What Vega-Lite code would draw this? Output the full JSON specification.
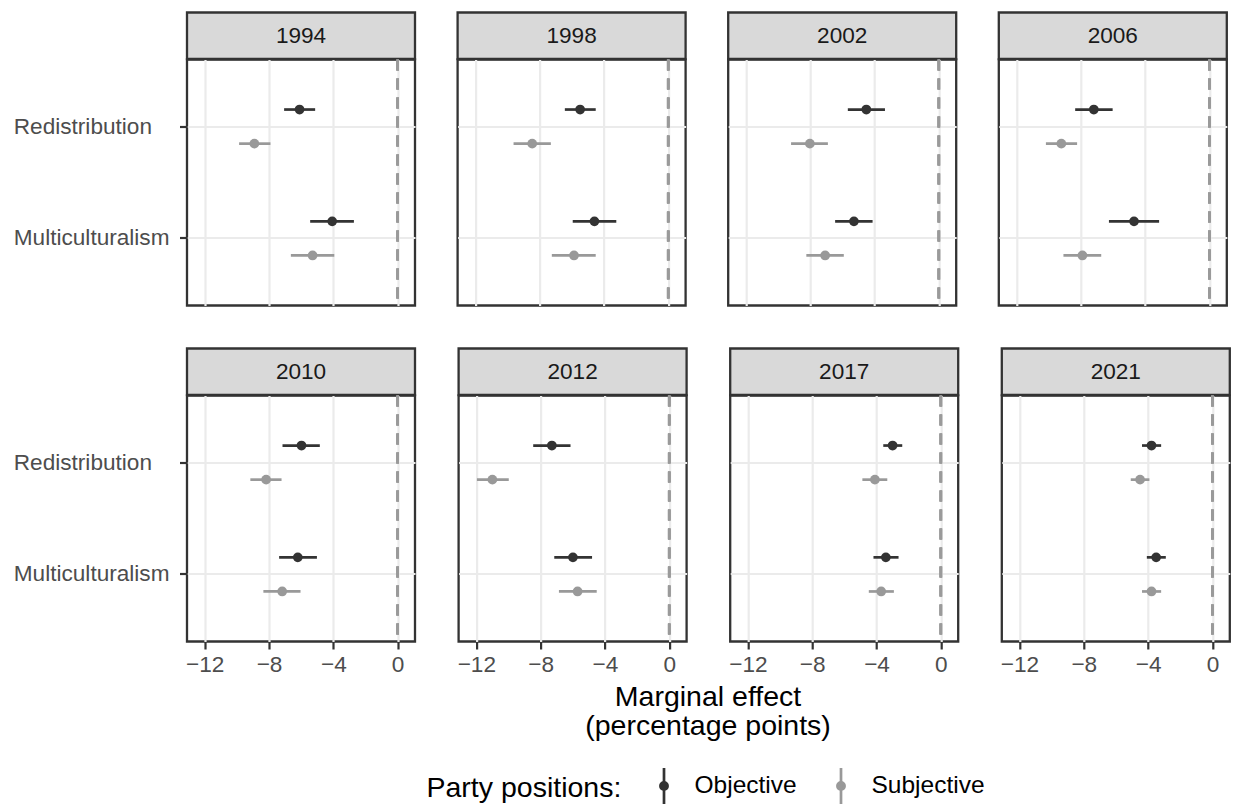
{
  "$schema": "https://vega.github.io/schema/vega-lite/v6.json",
  "background": "white",
  "padding": {"left": 12, "top": 10.5, "right": 4, "bottom": 0},
  "spacing": 38,
  "data": {"values": [
    {"year": "1994", "issue": "Redistribution", "measure": "Objective", "est": -6.10, "lo": -7.06, "hi": -5.13},
    {"year": "1994", "issue": "Redistribution", "measure": "Subjective", "est": -8.91, "lo": -9.86, "hi": -7.91},
    {"year": "1994", "issue": "Multiculturalism", "measure": "Objective", "est": -4.07, "lo": -5.44, "hi": -2.72},
    {"year": "1994", "issue": "Multiculturalism", "measure": "Subjective", "est": -5.29, "lo": -6.64, "hi": -3.94},
    {"year": "1998", "issue": "Redistribution", "measure": "Objective", "est": -5.48, "lo": -6.43, "hi": -4.51},
    {"year": "1998", "issue": "Redistribution", "measure": "Subjective", "est": -8.46, "lo": -9.62, "hi": -7.30},
    {"year": "1998", "issue": "Multiculturalism", "measure": "Objective", "est": -4.59, "lo": -5.94, "hi": -3.23},
    {"year": "1998", "issue": "Multiculturalism", "measure": "Subjective", "est": -5.86, "lo": -7.24, "hi": -4.51},
    {"year": "2002", "issue": "Redistribution", "measure": "Objective", "est": -4.51, "lo": -5.66, "hi": -3.35},
    {"year": "2002", "issue": "Redistribution", "measure": "Subjective", "est": -8.02, "lo": -9.19, "hi": -6.90},
    {"year": "2002", "issue": "Multiculturalism", "measure": "Objective", "est": -5.28, "lo": -6.45, "hi": -4.12},
    {"year": "2002", "issue": "Multiculturalism", "measure": "Subjective", "est": -7.07, "lo": -8.24, "hi": -5.91},
    {"year": "2006", "issue": "Redistribution", "measure": "Objective", "est": -7.19, "lo": -8.35, "hi": -6.02},
    {"year": "2006", "issue": "Redistribution", "measure": "Subjective", "est": -9.21, "lo": -10.17, "hi": -8.23},
    {"year": "2006", "issue": "Multiculturalism", "measure": "Objective", "est": -4.69, "lo": -6.25, "hi": -3.13},
    {"year": "2006", "issue": "Multiculturalism", "measure": "Subjective", "est": -7.90, "lo": -9.08, "hi": -6.73},
    {"year": "2010", "issue": "Redistribution", "measure": "Objective", "est": -5.98, "lo": -7.16, "hi": -4.84},
    {"year": "2010", "issue": "Redistribution", "measure": "Subjective", "est": -8.18, "lo": -9.16, "hi": -7.22},
    {"year": "2010", "issue": "Multiculturalism", "measure": "Objective", "est": -6.21, "lo": -7.37, "hi": -5.02},
    {"year": "2010", "issue": "Multiculturalism", "measure": "Subjective", "est": -7.18, "lo": -8.35, "hi": -6.04},
    {"year": "2012", "issue": "Redistribution", "measure": "Objective", "est": -7.30, "lo": -8.46, "hi": -6.14},
    {"year": "2012", "issue": "Redistribution", "measure": "Subjective", "est": -11.00, "lo": -11.96, "hi": -9.98},
    {"year": "2012", "issue": "Multiculturalism", "measure": "Objective", "est": -5.99, "lo": -7.15, "hi": -4.80},
    {"year": "2012", "issue": "Multiculturalism", "measure": "Subjective", "est": -5.70, "lo": -6.86, "hi": -4.51},
    {"year": "2017", "issue": "Redistribution", "measure": "Objective", "est": -3.00, "lo": -3.58, "hi": -2.40},
    {"year": "2017", "issue": "Redistribution", "measure": "Subjective", "est": -4.10, "lo": -4.88, "hi": -3.33},
    {"year": "2017", "issue": "Multiculturalism", "measure": "Objective", "est": -3.42, "lo": -4.19, "hi": -2.63},
    {"year": "2017", "issue": "Multiculturalism", "measure": "Subjective", "est": -3.71, "lo": -4.48, "hi": -2.92},
    {"year": "2021", "issue": "Redistribution", "measure": "Objective", "est": -3.79, "lo": -4.38, "hi": -3.19},
    {"year": "2021", "issue": "Redistribution", "measure": "Subjective", "est": -4.50, "lo": -5.08, "hi": -3.92},
    {"year": "2021", "issue": "Multiculturalism", "measure": "Objective", "est": -3.50, "lo": -4.08, "hi": -2.90},
    {"year": "2021", "issue": "Multiculturalism", "measure": "Subjective", "est": -3.79, "lo": -4.38, "hi": -3.19}
  ]},
  "vconcat": [
    {"spacing": 38.6, "hconcat": [
      {"spacing": 0, "bounds": "flush", "vconcat": [
        {"width": 228, "height": 46.5, "view": {"fill": "#D9D9D9", "stroke": "#333333", "strokeWidth": 2.3}, "transform": [{"filter": "datum.year === '1994'"}, {"aggregate": [{"op": "count", "as": "n"}], "groupby": ["year"]}], "mark": {"type": "text", "fontSize": 22.6, "color": "#1A1A1A", "font": "Liberation Sans"}, "encoding": {"text": {"field": "year"}}},
        {"width": 228, "height": 246, "transform": [{"filter": "datum.year === '1994'"}], "layer": [
          {"mark": {"type": "rule", "color": "#9A9A9A", "strokeWidth": 2.6, "strokeDash": [11, 8]}, "encoding": {"x": {"datum": 0, "type": "quantitative"}}},
          {"encoding": {
            "y": {"field": "issue", "type": "nominal", "sort": ["Redistribution", "Multiculturalism"], "title": null, "scale": {"paddingInner": 0.39, "paddingOuter": 0.295}, "axis": {"bandPosition": 0.5, "gridWidth": 2.2, "labels": true, "ticks": true, "labelAlign": "left", "labelPadding": 166.2}},
            "yOffset": {"field": "measure", "type": "nominal", "sort": ["Objective", "Subjective"], "scale": {"paddingInner": 0, "paddingOuter": 0}},
            "color": {"field": "measure", "type": "nominal", "scale": {"domain": ["Objective", "Subjective"], "range": ["#333333", "#999999"]}, "legend": {"title": "Party positions:", "encode": {"symbols": {"update": {"fill": {"scale": "color", "field": "value"}, "stroke": {"scale": "color", "field": "value"}, "strokeWidth": {"value": 2.7}, "opacity": {"value": 1}}}}}}
          }, "layer": [
            {"mark": {"type": "rule", "strokeWidth": 2.7}, "encoding": {"x": {"field": "lo", "type": "quantitative", "title": null, "scale": {"domain": [-13.1, 1.08], "nice": false, "zero": false}, "axis": {"values": [-12, -10, -8, -6, -4, -2, 0], "labels": false, "ticks": false, "gridWidth": {"condition": {"test": "datum.value % 4 === 0", "value": 2.2}, "value": 1.1}}}, "x2": {"field": "hi"}}},
            {"mark": {"type": "circle", "size": 95, "opacity": 1}, "encoding": {"x": {"field": "est", "type": "quantitative"}}}
          ]}
        ]}
      ]},
      {"spacing": 0, "bounds": "flush", "vconcat": [
        {"width": 228, "height": 46.5, "view": {"fill": "#D9D9D9", "stroke": "#333333", "strokeWidth": 2.3}, "transform": [{"filter": "datum.year === '1998'"}, {"aggregate": [{"op": "count", "as": "n"}], "groupby": ["year"]}], "mark": {"type": "text", "fontSize": 22.6, "color": "#1A1A1A", "font": "Liberation Sans"}, "encoding": {"text": {"field": "year"}}},
        {"width": 228, "height": 246, "transform": [{"filter": "datum.year === '1998'"}], "layer": [
          {"mark": {"type": "rule", "color": "#9A9A9A", "strokeWidth": 2.6, "strokeDash": [11, 8]}, "encoding": {"x": {"datum": 0, "type": "quantitative"}}},
          {"encoding": {
            "y": {"field": "issue", "type": "nominal", "sort": ["Redistribution", "Multiculturalism"], "title": null, "scale": {"paddingInner": 0.39, "paddingOuter": 0.295}, "axis": {"bandPosition": 0.5, "gridWidth": 2.2, "labels": false, "ticks": false}},
            "yOffset": {"field": "measure", "type": "nominal", "sort": ["Objective", "Subjective"], "scale": {"paddingInner": 0, "paddingOuter": 0}},
            "color": {"field": "measure", "type": "nominal", "scale": {"domain": ["Objective", "Subjective"], "range": ["#333333", "#999999"]}, "legend": {"title": "Party positions:", "encode": {"symbols": {"update": {"fill": {"scale": "color", "field": "value"}, "stroke": {"scale": "color", "field": "value"}, "strokeWidth": {"value": 2.7}, "opacity": {"value": 1}}}}}}
          }, "layer": [
            {"mark": {"type": "rule", "strokeWidth": 2.7}, "encoding": {"x": {"field": "lo", "type": "quantitative", "title": null, "scale": {"domain": [-13.1, 1.08], "nice": false, "zero": false}, "axis": {"values": [-12, -10, -8, -6, -4, -2, 0], "labels": false, "ticks": false, "gridWidth": {"condition": {"test": "datum.value % 4 === 0", "value": 2.2}, "value": 1.1}}}, "x2": {"field": "hi"}}},
            {"mark": {"type": "circle", "size": 95, "opacity": 1}, "encoding": {"x": {"field": "est", "type": "quantitative"}}}
          ]}
        ]}
      ]},
      {"spacing": 0, "bounds": "flush", "vconcat": [
        {"width": 228, "height": 46.5, "view": {"fill": "#D9D9D9", "stroke": "#333333", "strokeWidth": 2.3}, "transform": [{"filter": "datum.year === '2002'"}, {"aggregate": [{"op": "count", "as": "n"}], "groupby": ["year"]}], "mark": {"type": "text", "fontSize": 22.6, "color": "#1A1A1A", "font": "Liberation Sans"}, "encoding": {"text": {"field": "year"}}},
        {"width": 228, "height": 246, "transform": [{"filter": "datum.year === '2002'"}], "layer": [
          {"mark": {"type": "rule", "color": "#9A9A9A", "strokeWidth": 2.6, "strokeDash": [11, 8]}, "encoding": {"x": {"datum": 0, "type": "quantitative"}}},
          {"encoding": {
            "y": {"field": "issue", "type": "nominal", "sort": ["Redistribution", "Multiculturalism"], "title": null, "scale": {"paddingInner": 0.39, "paddingOuter": 0.295}, "axis": {"bandPosition": 0.5, "gridWidth": 2.2, "labels": false, "ticks": false}},
            "yOffset": {"field": "measure", "type": "nominal", "sort": ["Objective", "Subjective"], "scale": {"paddingInner": 0, "paddingOuter": 0}},
            "color": {"field": "measure", "type": "nominal", "scale": {"domain": ["Objective", "Subjective"], "range": ["#333333", "#999999"]}, "legend": {"title": "Party positions:", "encode": {"symbols": {"update": {"fill": {"scale": "color", "field": "value"}, "stroke": {"scale": "color", "field": "value"}, "strokeWidth": {"value": 2.7}, "opacity": {"value": 1}}}}}}
          }, "layer": [
            {"mark": {"type": "rule", "strokeWidth": 2.7}, "encoding": {"x": {"field": "lo", "type": "quantitative", "title": null, "scale": {"domain": [-13.1, 1.08], "nice": false, "zero": false}, "axis": {"values": [-12, -10, -8, -6, -4, -2, 0], "labels": false, "ticks": false, "gridWidth": {"condition": {"test": "datum.value % 4 === 0", "value": 2.2}, "value": 1.1}}}, "x2": {"field": "hi"}}},
            {"mark": {"type": "circle", "size": 95, "opacity": 1}, "encoding": {"x": {"field": "est", "type": "quantitative"}}}
          ]}
        ]}
      ]},
      {"spacing": 0, "bounds": "flush", "vconcat": [
        {"width": 228, "height": 46.5, "view": {"fill": "#D9D9D9", "stroke": "#333333", "strokeWidth": 2.3}, "transform": [{"filter": "datum.year === '2006'"}, {"aggregate": [{"op": "count", "as": "n"}], "groupby": ["year"]}], "mark": {"type": "text", "fontSize": 22.6, "color": "#1A1A1A", "font": "Liberation Sans"}, "encoding": {"text": {"field": "year"}}},
        {"width": 228, "height": 246, "transform": [{"filter": "datum.year === '2006'"}], "layer": [
          {"mark": {"type": "rule", "color": "#9A9A9A", "strokeWidth": 2.6, "strokeDash": [11, 8]}, "encoding": {"x": {"datum": 0, "type": "quantitative"}}},
          {"encoding": {
            "y": {"field": "issue", "type": "nominal", "sort": ["Redistribution", "Multiculturalism"], "title": null, "scale": {"paddingInner": 0.39, "paddingOuter": 0.295}, "axis": {"bandPosition": 0.5, "gridWidth": 2.2, "labels": false, "ticks": false}},
            "yOffset": {"field": "measure", "type": "nominal", "sort": ["Objective", "Subjective"], "scale": {"paddingInner": 0, "paddingOuter": 0}},
            "color": {"field": "measure", "type": "nominal", "scale": {"domain": ["Objective", "Subjective"], "range": ["#333333", "#999999"]}, "legend": {"title": "Party positions:", "encode": {"symbols": {"update": {"fill": {"scale": "color", "field": "value"}, "stroke": {"scale": "color", "field": "value"}, "strokeWidth": {"value": 2.7}, "opacity": {"value": 1}}}}}}
          }, "layer": [
            {"mark": {"type": "rule", "strokeWidth": 2.7}, "encoding": {"x": {"field": "lo", "type": "quantitative", "title": null, "scale": {"domain": [-13.1, 1.08], "nice": false, "zero": false}, "axis": {"values": [-12, -10, -8, -6, -4, -2, 0], "labels": false, "ticks": false, "gridWidth": {"condition": {"test": "datum.value % 4 === 0", "value": 2.2}, "value": 1.1}}}, "x2": {"field": "hi"}}},
            {"mark": {"type": "circle", "size": 95, "opacity": 1}, "encoding": {"x": {"field": "est", "type": "quantitative"}}}
          ]}
        ]}
      ]}
    ]},
    {"spacing": 38.6, "title": {"text": ["Marginal effect", "(percentage points)"], "orient": "bottom", "anchor": "middle", "frame": "bounds", "fontSize": 28.5, "font": "Liberation Sans", "fontWeight": "normal", "color": "#000000", "lineHeight": 29, "offset": 6.5, "dx": 86.5}, "hconcat": [
      {"spacing": 0, "bounds": "flush", "vconcat": [
        {"width": 228, "height": 46.5, "view": {"fill": "#D9D9D9", "stroke": "#333333", "strokeWidth": 2.3}, "transform": [{"filter": "datum.year === '2010'"}, {"aggregate": [{"op": "count", "as": "n"}], "groupby": ["year"]}], "mark": {"type": "text", "fontSize": 22.6, "color": "#1A1A1A", "font": "Liberation Sans"}, "encoding": {"text": {"field": "year"}}},
        {"width": 228, "height": 246, "transform": [{"filter": "datum.year === '2010'"}], "layer": [
          {"mark": {"type": "rule", "color": "#9A9A9A", "strokeWidth": 2.6, "strokeDash": [11, 8]}, "encoding": {"x": {"datum": 0, "type": "quantitative"}}},
          {"encoding": {
            "y": {"field": "issue", "type": "nominal", "sort": ["Redistribution", "Multiculturalism"], "title": null, "scale": {"paddingInner": 0.39, "paddingOuter": 0.295}, "axis": {"bandPosition": 0.5, "gridWidth": 2.2, "labels": true, "ticks": true, "labelAlign": "left", "labelPadding": 166.2}},
            "yOffset": {"field": "measure", "type": "nominal", "sort": ["Objective", "Subjective"], "scale": {"paddingInner": 0, "paddingOuter": 0}},
            "color": {"field": "measure", "type": "nominal", "scale": {"domain": ["Objective", "Subjective"], "range": ["#333333", "#999999"]}, "legend": {"title": "Party positions:", "encode": {"symbols": {"update": {"fill": {"scale": "color", "field": "value"}, "stroke": {"scale": "color", "field": "value"}, "strokeWidth": {"value": 2.7}, "opacity": {"value": 1}}}}}}
          }, "layer": [
            {"mark": {"type": "rule", "strokeWidth": 2.7}, "encoding": {"x": {"field": "lo", "type": "quantitative", "title": null, "scale": {"domain": [-13.1, 1.08], "nice": false, "zero": false}, "axis": {"values": [-12, -10, -8, -6, -4, -2, 0], "labelExpr": "datum.value % 4 === 0 ? datum.label : ''", "labelPadding": 4, "tickOpacity": {"condition": {"test": "datum.value % 4 === 0", "value": 1}, "value": 0}, "gridWidth": {"condition": {"test": "datum.value % 4 === 0", "value": 2.2}, "value": 1.1}}}, "x2": {"field": "hi"}}},
            {"mark": {"type": "circle", "size": 95, "opacity": 1}, "encoding": {"x": {"field": "est", "type": "quantitative"}}}
          ]}
        ]}
      ]},
      {"spacing": 0, "bounds": "flush", "vconcat": [
        {"width": 228, "height": 46.5, "view": {"fill": "#D9D9D9", "stroke": "#333333", "strokeWidth": 2.3}, "transform": [{"filter": "datum.year === '2012'"}, {"aggregate": [{"op": "count", "as": "n"}], "groupby": ["year"]}], "mark": {"type": "text", "fontSize": 22.6, "color": "#1A1A1A", "font": "Liberation Sans"}, "encoding": {"text": {"field": "year"}}},
        {"width": 228, "height": 246, "transform": [{"filter": "datum.year === '2012'"}], "layer": [
          {"mark": {"type": "rule", "color": "#9A9A9A", "strokeWidth": 2.6, "strokeDash": [11, 8]}, "encoding": {"x": {"datum": 0, "type": "quantitative"}}},
          {"encoding": {
            "y": {"field": "issue", "type": "nominal", "sort": ["Redistribution", "Multiculturalism"], "title": null, "scale": {"paddingInner": 0.39, "paddingOuter": 0.295}, "axis": {"bandPosition": 0.5, "gridWidth": 2.2, "labels": false, "ticks": false}},
            "yOffset": {"field": "measure", "type": "nominal", "sort": ["Objective", "Subjective"], "scale": {"paddingInner": 0, "paddingOuter": 0}},
            "color": {"field": "measure", "type": "nominal", "scale": {"domain": ["Objective", "Subjective"], "range": ["#333333", "#999999"]}, "legend": {"title": "Party positions:", "encode": {"symbols": {"update": {"fill": {"scale": "color", "field": "value"}, "stroke": {"scale": "color", "field": "value"}, "strokeWidth": {"value": 2.7}, "opacity": {"value": 1}}}}}}
          }, "layer": [
            {"mark": {"type": "rule", "strokeWidth": 2.7}, "encoding": {"x": {"field": "lo", "type": "quantitative", "title": null, "scale": {"domain": [-13.1, 1.08], "nice": false, "zero": false}, "axis": {"values": [-12, -10, -8, -6, -4, -2, 0], "labelExpr": "datum.value % 4 === 0 ? datum.label : ''", "labelPadding": 4, "tickOpacity": {"condition": {"test": "datum.value % 4 === 0", "value": 1}, "value": 0}, "gridWidth": {"condition": {"test": "datum.value % 4 === 0", "value": 2.2}, "value": 1.1}}}, "x2": {"field": "hi"}}},
            {"mark": {"type": "circle", "size": 95, "opacity": 1}, "encoding": {"x": {"field": "est", "type": "quantitative"}}}
          ]}
        ]}
      ]},
      {"spacing": 0, "bounds": "flush", "vconcat": [
        {"width": 228, "height": 46.5, "view": {"fill": "#D9D9D9", "stroke": "#333333", "strokeWidth": 2.3}, "transform": [{"filter": "datum.year === '2017'"}, {"aggregate": [{"op": "count", "as": "n"}], "groupby": ["year"]}], "mark": {"type": "text", "fontSize": 22.6, "color": "#1A1A1A", "font": "Liberation Sans"}, "encoding": {"text": {"field": "year"}}},
        {"width": 228, "height": 246, "transform": [{"filter": "datum.year === '2017'"}], "layer": [
          {"mark": {"type": "rule", "color": "#9A9A9A", "strokeWidth": 2.6, "strokeDash": [11, 8]}, "encoding": {"x": {"datum": 0, "type": "quantitative"}}},
          {"encoding": {
            "y": {"field": "issue", "type": "nominal", "sort": ["Redistribution", "Multiculturalism"], "title": null, "scale": {"paddingInner": 0.39, "paddingOuter": 0.295}, "axis": {"bandPosition": 0.5, "gridWidth": 2.2, "labels": false, "ticks": false}},
            "yOffset": {"field": "measure", "type": "nominal", "sort": ["Objective", "Subjective"], "scale": {"paddingInner": 0, "paddingOuter": 0}},
            "color": {"field": "measure", "type": "nominal", "scale": {"domain": ["Objective", "Subjective"], "range": ["#333333", "#999999"]}, "legend": {"title": "Party positions:", "encode": {"symbols": {"update": {"fill": {"scale": "color", "field": "value"}, "stroke": {"scale": "color", "field": "value"}, "strokeWidth": {"value": 2.7}, "opacity": {"value": 1}}}}}}
          }, "layer": [
            {"mark": {"type": "rule", "strokeWidth": 2.7}, "encoding": {"x": {"field": "lo", "type": "quantitative", "title": null, "scale": {"domain": [-13.1, 1.08], "nice": false, "zero": false}, "axis": {"values": [-12, -10, -8, -6, -4, -2, 0], "labelExpr": "datum.value % 4 === 0 ? datum.label : ''", "labelPadding": 4, "tickOpacity": {"condition": {"test": "datum.value % 4 === 0", "value": 1}, "value": 0}, "gridWidth": {"condition": {"test": "datum.value % 4 === 0", "value": 2.2}, "value": 1.1}}}, "x2": {"field": "hi"}}},
            {"mark": {"type": "circle", "size": 95, "opacity": 1}, "encoding": {"x": {"field": "est", "type": "quantitative"}}}
          ]}
        ]}
      ]},
      {"spacing": 0, "bounds": "flush", "vconcat": [
        {"width": 228, "height": 46.5, "view": {"fill": "#D9D9D9", "stroke": "#333333", "strokeWidth": 2.3}, "transform": [{"filter": "datum.year === '2021'"}, {"aggregate": [{"op": "count", "as": "n"}], "groupby": ["year"]}], "mark": {"type": "text", "fontSize": 22.6, "color": "#1A1A1A", "font": "Liberation Sans"}, "encoding": {"text": {"field": "year"}}},
        {"width": 228, "height": 246, "transform": [{"filter": "datum.year === '2021'"}], "layer": [
          {"mark": {"type": "rule", "color": "#9A9A9A", "strokeWidth": 2.6, "strokeDash": [11, 8]}, "encoding": {"x": {"datum": 0, "type": "quantitative"}}},
          {"encoding": {
            "y": {"field": "issue", "type": "nominal", "sort": ["Redistribution", "Multiculturalism"], "title": null, "scale": {"paddingInner": 0.39, "paddingOuter": 0.295}, "axis": {"bandPosition": 0.5, "gridWidth": 2.2, "labels": false, "ticks": false}},
            "yOffset": {"field": "measure", "type": "nominal", "sort": ["Objective", "Subjective"], "scale": {"paddingInner": 0, "paddingOuter": 0}},
            "color": {"field": "measure", "type": "nominal", "scale": {"domain": ["Objective", "Subjective"], "range": ["#333333", "#999999"]}, "legend": {"title": "Party positions:", "encode": {"symbols": {"update": {"fill": {"scale": "color", "field": "value"}, "stroke": {"scale": "color", "field": "value"}, "strokeWidth": {"value": 2.7}, "opacity": {"value": 1}}}}}}
          }, "layer": [
            {"mark": {"type": "rule", "strokeWidth": 2.7}, "encoding": {"x": {"field": "lo", "type": "quantitative", "title": null, "scale": {"domain": [-13.1, 1.08], "nice": false, "zero": false}, "axis": {"values": [-12, -10, -8, -6, -4, -2, 0], "labelExpr": "datum.value % 4 === 0 ? datum.label : ''", "labelPadding": 4, "tickOpacity": {"condition": {"test": "datum.value % 4 === 0", "value": 1}, "value": 0}, "gridWidth": {"condition": {"test": "datum.value % 4 === 0", "value": 2.2}, "value": 1.1}}}, "x2": {"field": "hi"}}},
            {"mark": {"type": "circle", "size": 95, "opacity": 1}, "encoding": {"x": {"field": "est", "type": "quantitative"}}}
          ]}
        ]}
      ]}
    ]}
  ],
  "config": {
    "font": "Liberation Sans",
    "view": {"stroke": "#333333", "strokeWidth": 2.3},
    "axis": {"domain": false, "grid": true, "gridColor": "#EBEBEB", "labelFont": "Liberation Sans", "labelFontSize": 22.6, "labelColor": "#4D4D4D", "tickColor": "#333333", "tickWidth": 2.2, "tickSize": 7.5},
    "legend": {"orient": "none", "legendX": 239.5, "legendY": 754, "direction": "horizontal", "titleOrient": "left", "titleFont": "Liberation Sans", "titleFontSize": 28.5, "titleFontWeight": "normal", "titleColor": "#000000", "titleBaseline": "middle", "titlePadding": 23, "titleLimit": 500, "labelFont": "Liberation Sans", "labelFontSize": 24.5, "labelColor": "#000000", "labelOffset": 11, "columnPadding": 24, "symbolSize": 1296, "symbolStrokeWidth": 2.7, "symbolType": "M0,-1V1M-0.2,0A0.2,0.2,0,1,1,0.2,0A0.2,0.2,0,1,1,-0.2,0Z"}
  }
}
